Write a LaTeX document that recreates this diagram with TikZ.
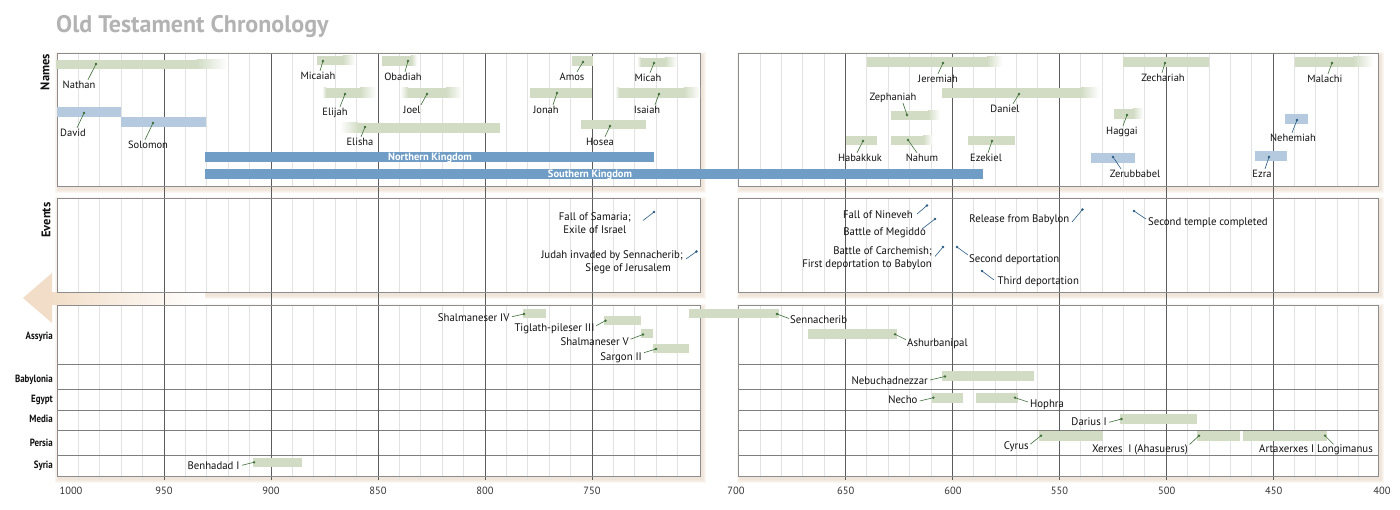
\documentclass[tikz,border=0pt]{standalone}
\usepackage{fontspec}
\setmainfont{PT Sans}
\newfontfamily\condf[FakeStretch=0.98]{PT Sans}
\newfontfamily\rowf[FakeStretch=0.85]{PT Sans}
\definecolor{gbar}{HTML}{D2DCC5}
\definecolor{lbbar}{HTML}{B5CADF}
\definecolor{dbbar}{HTML}{6F9DC5}
\definecolor{lgreen}{HTML}{3F6F3A}
\definecolor{lblue}{HTML}{2B5C82}
\definecolor{titlegray}{HTML}{B3B3B3}
\definecolor{peach}{HTML}{F2DEC8}
\definecolor{shadowc}{HTML}{E0CBB4}
\definecolor{minorc}{HTML}{E2E2E2}
\definecolor{majorc}{HTML}{5C5C5C}
\definecolor{borderc}{HTML}{8C8C8C}
\definecolor{txt}{HTML}{111111}
\newcommand\yrL[1]{57+(1000-#1)*2.14}
\newcommand\yrR[1]{738.5+(700-#1)*2.138}
% bar: colour, x1, x2, y1, y2, fade left, fade right, name
\newcommand\tbar[8]{%
  \fill[#1] ({#2+#6},#4) rectangle ({#3-#7},#5);
  \ifnum#6>0 \shade[left color=white,right color=#1] (#2,#4) rectangle ({#2+#6},#5);\fi
  \ifnum#7>0 \shade[left color=#1,right color=white] ({#3-#7},#4) rectangle (#3,#5);\fi
  \coordinate (#8) at ({(#2+#3)/2},{(#4+#5)/2});}
% name label: id, text, x, y, leader dx, dot x, dot y, colour
\newcommand\nameitem[8]{%
  \node[lbl] (#1) at (#3,#4) {#2};
  \coordinate (d#1) at (#6,#7);
  \draw[ldr,draw=#8] (#1.north) ++(#5,-1.5) -- (d#1);
  \fill[#8] (d#1) circle (1.3);}
\newcommand\shadowpanel[4]{%
  \foreach \s in {1,...,4}{\fill[shadowc,opacity=0.15] ({#1-\s+2},{#2-\s+3}) rectangle ({#3+\s+2},{#4+\s+3});}
  \fill[white] (#1,#2) rectangle (#3,#4);}
\begin{document}
\begin{tikzpicture}[x=1pt,y=-1pt,
  gmin/.style={draw=minorc,line width=0.7pt},
  gmaj/.style={draw=majorc,line width=0.8pt},
  pborder/.style={draw=borderc,line width=0.9pt},
  rowsep/.style={draw=borderc!90!black,line width=0.9pt},
  ldr/.style={line width=0.6pt},
  lbl/.style={inner sep=0pt,text height=7pt,text depth=0pt,text=txt,font=\fontsize{10.5}{12}\selectfont},
  blbl/.style={inner sep=0pt,text height=7pt,text depth=0pt,text=txt,font=\condf\fontsize{11}{13}\selectfont},
  evt/.style={inner sep=0pt,text=txt,font=\condf\fontsize{11}{13}\selectfont},
  rowl/.style={inner sep=0pt,anchor=east,text height=7pt,text depth=0pt,text=txt,font=\rowf\bfseries\fontsize{10.5}{12}\selectfont},
  axl/.style={inner sep=0pt,text height=7pt,text depth=0pt,text=txt!85,font=\fontsize{10.5}{12}\selectfont},
  kt/.style={inner sep=0pt,text height=7pt,text depth=0pt,text=white,font=\bfseries\fontsize{10.5}{12}\selectfont},
  sidel/.style={inner sep=0pt,rotate=90,text=txt,font=\bfseries\fontsize{12.5}{14}\selectfont}]
\useasboundingbox (0,0) rectangle (1400,510);
\fill[white] (0,0) rectangle (1400,510);
% title
\node[anchor=base west,inner sep=0pt,text=titlegray,font=\bfseries\fontsize{24}{28}\selectfont] (title) at (56,33) {Old Testament Chronology};
% panels with shadows
\shadowpanel{57}{53}{700}{186}
\shadowpanel{738.5}{53}{1378}{186}
\shadowpanel{57}{198}{700}{292}
\shadowpanel{738.5}{198}{1378}{292}
\shadowpanel{57}{305}{700}{476}
\shadowpanel{738.5}{305}{1378}{476}
% arrow
\fill[peach] (23,298) -- (52,273) -- (52,323) -- cycle;
\shade[left color=peach,right color=white] (52,292.5) rectangle (205,304.5);
% minor grid
\foreach \yr in {990,980,...,710}{
  \foreach \ya/\yb in {53/186,198/292,305/476}{
    \draw[gmin] ({\yrL{\yr}},\ya) -- ({\yrL{\yr}},\yb);}
  \draw[gmin] ({\yrL{\yr}},476) -- ({\yrL{\yr}},479.5);}
\foreach \yr in {690,680,...,410}{
  \foreach \ya/\yb in {53/186,198/292,305/476}{
    \draw[gmin] ({\yrR{\yr}},\ya) -- ({\yrR{\yr}},\yb);}
  \draw[gmin] ({\yrR{\yr}},476) -- ({\yrR{\yr}},479.5);}
% row separators
\foreach \ry in {364.3,389.3,410,430.3,455.7}{
  \draw[rowsep] (57,\ry) -- (700,\ry);
  \draw[rowsep] (738.5,\ry) -- (1378,\ry);}
% major lines
\foreach \yr in {950,900,...,750}{\draw[gmaj] ({\yrL{\yr}},53) -- ({\yrL{\yr}},480);}
\foreach \yr in {650,600,...,450}{\draw[gmaj] ({\yrR{\yr}},53) -- ({\yrR{\yr}},480);}
% borders
\foreach \xa/\xb in {57/700,738.5/1378}{
  \draw[pborder] (\xa,53) rectangle (\xb,186);
  \draw[pborder] (\xa,198) rectangle (\xb,292);
  \draw[pborder] (\xa,305) rectangle (\xb,476);}
% side labels
\node[sidel] (namesl) at (45,72) {Names};
\node[sidel] (eventsl) at (46,220) {Events};
% ---------- bars: names ----------
\tbar{gbar}{56}{227}{60}{69}{0}{30}{bNathan}
\tbar{lbbar}{57}{121}{107}{117}{0}{0}{bDavid}
\tbar{lbbar}{121}{206}{117}{127}{0}{0}{bSolomon}
\tbar{gbar}{317}{355}{56}{65}{0}{12}{bMicaiah}
\tbar{gbar}{322}{376}{88}{98}{4}{16}{bElijah}
\tbar{gbar}{340}{500}{123}{133}{18}{0}{bElisha}
\tbar{gbar}{382}{417}{56}{66}{0}{6}{bObadiah}
\tbar{gbar}{400}{462}{88}{98}{8}{16}{bJoel}
\tbar{gbar}{572}{593}{56}{66}{0}{0}{bAmos}
\tbar{gbar}{637}{677}{58}{67}{4}{12}{bMicah}
\tbar{gbar}{530}{592}{88}{98}{0}{0}{bJonah}
\tbar{gbar}{615}{700}{88}{98}{4}{16}{bIsaiah}
\tbar{gbar}{581}{646}{120}{129}{0}{0}{bHosea}
\tbar{dbbar}{205}{654}{152}{162}{0}{0}{bNK}
\tbar{dbbar}{205}{983}{169}{179}{0}{0}{bSK}
\tbar{gbar}{867}{1002}{57}{67}{0}{15}{bJeremiah}
\tbar{gbar}{942}{1099}{88}{98}{0}{18}{bDaniel}
\tbar{gbar}{891}{940}{111}{120}{0}{12}{bZephaniah}
\tbar{gbar}{846}{877}{136}{145}{0}{0}{bHabakkuk}
\tbar{gbar}{891}{933}{136}{145}{0}{10}{bNahum}
\tbar{gbar}{968}{1015}{136}{145}{0}{0}{bEzekiel}
\tbar{gbar}{1123}{1209}{57}{67}{0}{0}{bZechariah}
\tbar{gbar}{1114}{1143}{109}{119}{0}{10}{bHaggai}
\tbar{lbbar}{1091}{1135}{153}{163}{0}{0}{bZerubbabel}
\tbar{lbbar}{1285}{1308}{114}{124}{0}{0}{bNehemiah}
\tbar{lbbar}{1255}{1287}{151}{161}{0}{0}{bEzra}
\tbar{gbar}{1295}{1373}{57}{67}{0}{20}{bMalachi}
% ---------- bars: nations ----------
\tbar{gbar}{522.5}{546.4}{309}{318.3}{0}{0}{bShalIV}
\tbar{gbar}{603.8}{640.5}{315.7}{325}{0}{0}{bTig}
\tbar{gbar}{640.5}{653}{329}{338.3}{0}{0}{bShalV}
\tbar{gbar}{653}{688.7}{344.3}{353.3}{0}{0}{bSargon}
\tbar{gbar}{688.7}{778.5}{309}{318.3}{0}{0}{bSenn}
\tbar{gbar}{808}{897}{329.3}{339.3}{0}{0}{bAshur}
\tbar{gbar}{942}{1034.4}{371}{381}{0}{0}{bNeb}
\tbar{gbar}{931.6}{962.8}{392.7}{402.7}{0}{0}{bNecho}
\tbar{gbar}{976}{1017.5}{392.7}{402.7}{0}{0}{bHophra}
\tbar{gbar}{1120}{1197}{414}{424}{0}{0}{bDarius}
\tbar{gbar}{1039}{1102.5}{431}{441}{0}{0}{bCyrus}
\tbar{gbar}{1197}{1240.4}{431}{441}{0}{0}{bXerxes}
\tbar{gbar}{1242.5}{1327}{431}{441}{0}{0}{bArta}
\tbar{gbar}{252.5}{302}{458}{466.7}{0}{0}{bBen}
% kingdom texts
\node[kt] (nk) at (430,157) {Northern Kingdom};
\node[kt] (sk) at (590,174) {Southern Kingdom};
% ---------- name labels ----------
\nameitem{nathan}{Nathan}{79}{85}{9}{96}{64}{lgreen}
\nameitem{david}{David}{73}{133}{4}{84}{113}{lgreen}
\nameitem{solomon}{Solomon}{148}{145}{-3}{153}{123}{lgreen}
\nameitem{micaiah}{Micaiah}{318}{76}{2}{323}{61}{lgreen}
\nameitem{elijah}{Elijah}{335}{112}{5}{345}{94}{lgreen}
\nameitem{elisha}{Elisha}{360}{142}{1}{365}{127}{lgreen}
\nameitem{obadiah}{Obadiah}{403}{77}{2}{408}{61}{lgreen}
\nameitem{joel}{Joel}{412}{110}{9}{427}{94}{lgreen}
\nameitem{amos}{Amos}{572}{77}{5}{583}{62}{lgreen}
\nameitem{micah}{Micah}{648}{78}{2}{654}{63}{lgreen}
\nameitem{jonah}{Jonah}{546}{110}{7}{557}{93}{lgreen}
\nameitem{isaiah}{Isaiah}{647}{110}{8}{659}{94}{lgreen}
\nameitem{hosea}{Hosea}{600}{142}{5}{610}{126}{lgreen}
\nameitem{jeremiah}{Jeremiah}{938}{79}{0}{943}{63}{lgreen}
\nameitem{daniel}{Daniel}{1005}{109}{8}{1019}{94}{lgreen}
\nameitem{habakkuk}{Habakkuk}{860}{158}{-3}{863}{141}{lgreen}
\nameitem{nahum}{Nahum}{922}{158}{-5}{908}{140}{lgreen}
\nameitem{ezekiel}{Ezekiel}{986}{158}{2}{992}{141}{lgreen}
\nameitem{zechariah}{Zechariah}{1163}{78}{-1}{1165}{63}{lgreen}
\nameitem{haggai}{Haggai}{1122}{131}{1}{1127}{115}{lgreen}
\nameitem{zerubbabel}{Zerubbabel}{1135}{174}{-14}{1113}{157}{lblue}
\nameitem{nehemiah}{Nehemiah}{1293}{138}{-1}{1297}{120}{lblue}
\nameitem{ezra}{Ezra}{1262}{174}{3}{1269}{157}{lblue}
\nameitem{malachi}{Malachi}{1325}{79}{3}{1332}{63}{lgreen}
\node[lbl] (zephaniah) at (893,97) {Zephaniah};
\coordinate (dzephaniah) at (907,115);
\draw[ldr,draw=lgreen] (zephaniah.south) ++(10,2.5) -- (dzephaniah);
\fill[lgreen] (dzephaniah) circle (1.3);
% ---------- events ----------
\node[evt,align=center,anchor=north east] (samaria) at (631,212) {Fall of Samaria;\\Exile of Israel};
\coordinate (dsamaria) at (654,212);
\draw[ldr,draw=lblue] (samaria.north east) ++(12,8.5) -- (dsamaria);
\node[evt,align=right,anchor=north east] (judah) at (683,250.5) {Judah invaded by Sennacherib;\\Siege of Jerusalem\kern12pt};
\coordinate (djudah) at (696.5,251.5);
\draw[ldr,draw=lblue] (judah.north east) ++(3,8.5) -- (djudah);
\node[evt,text height=7pt,text depth=0pt,anchor=east] (nineveh) at (913,214.8) {Fall of Nineveh};
\coordinate (dnineveh) at (927,205.5);
\draw[ldr,draw=lblue] (nineveh.east) ++(4,-0.8) -- (dnineveh);
\node[evt,text height=7pt,text depth=0pt,anchor=east] (megiddo) at (926,232) {Battle of Megiddo};
\coordinate (dmegiddo) at (935,219);
\draw[ldr,draw=lblue] (megiddo.east) ++(-4,-3) -- (dmegiddo);
\node[evt,align=right,anchor=north east] (carch) at (932,246) {Battle of Carchemish;\\First deportation to Babylon};
\coordinate (dcarch) at (943,247);
\draw[ldr,draw=lblue] (carch.north east) ++(3,10.5) -- (dcarch);
\node[evt,text height=7pt,text depth=0pt,anchor=west] (second) at (969,259) {Second deportation};
\coordinate (dsecond) at (957,247);
\draw[ldr,draw=lblue] (second.west) ++(-1,-4) -- (dsecond);
\node[evt,text height=7pt,text depth=0pt,anchor=west] (third) at (997.5,281) {Third deportation};
\coordinate (dthird) at (982,271);
\draw[ldr,draw=lblue] (third.west) ++(-3.5,-1) -- (dthird);
\node[evt,text height=7pt,text depth=0pt,anchor=east] (release) at (1069.5,219) {Release from Babylon};
\coordinate (drelease) at (1082.5,209.5);
\draw[ldr,draw=lblue] (release.east) ++(2.5,3) -- (drelease);
\node[evt,text height=7pt,text depth=0pt,anchor=west] (temple) at (1148,222) {Second temple completed};
\coordinate (dtemple) at (1134,211);
\draw[ldr,draw=lblue] (temple.west) ++(-2,-3) -- (dtemple);
\foreach \d in {dsamaria,djudah,dnineveh,dmegiddo,dcarch,dsecond,dthird,drelease,dtemple}{\fill[lblue] (\d) circle (1.3);}
% ---------- nation labels ----------
\node[blbl,anchor=east] (shaliv) at (509.6,317.7) {Shalmaneser IV};
\coordinate (dshaliv) at (524,314);
\draw[ldr,draw=lgreen] (shaliv.east) ++(2.4,-1) -- (dshaliv);
\node[blbl,anchor=east] (tig) at (594.6,327.7) {Tiglath-pileser III};
\coordinate (dtig) at (605.5,320.7);
\draw[ldr,draw=lgreen] (tig.east) ++(1.5,-2) -- (dtig);
\node[blbl,anchor=east] (shalv) at (629,341.7) {Shalmaneser V};
\coordinate (dshalv) at (643,334.5);
\draw[ldr,draw=lgreen] (shalv.east) ++(1.5,-2.5) -- (dshalv);
\node[blbl,anchor=east] (sargon) at (642,356.7) {Sargon II};
\coordinate (dsargon) at (656,349);
\draw[ldr,draw=lgreen] (sargon.east) ++(2,-4) -- (dsargon);
\node[blbl,anchor=west] (senn) at (790,320) {Sennacherib};
\coordinate (dsenn) at (777,314);
\draw[ldr,draw=lgreen] (senn.west) ++(-1,-1.5) -- (dsenn);
\node[blbl,anchor=west] (ashur) at (907,342.7) {Ashurbanipal};
\coordinate (dashur) at (895,334.3);
\draw[ldr,draw=lgreen] (ashur.west) ++(-1,-3) -- (dashur);
\node[blbl,anchor=east] (neb) at (928,381) {Nebuchadnezzar};
\coordinate (dneb) at (945,376.5);
\draw[ldr,draw=lgreen] (neb.east) ++(2,-1) -- (dneb);
\node[blbl,anchor=east] (necho) at (917.7,400) {Necho};
\coordinate (dnecho) at (933.4,397.7);
\draw[ldr,draw=lgreen] (necho.east) ++(2,1) -- (dnecho);
\node[blbl,anchor=west] (hophra) at (1030,404) {Hophra};
\coordinate (dhophra) at (1015,397.7);
\draw[ldr,draw=lgreen] (hophra.west) ++(-2,-2) -- (dhophra);
\node[blbl,anchor=east] (darius) at (1107,422.3) {Darius I};
\coordinate (ddarius) at (1121.5,419);
\draw[ldr,draw=lgreen] (darius.east) ++(2,0) -- (ddarius);
\node[blbl,anchor=east] (cyrus) at (1028.8,445.7) {Cyrus};
\coordinate (dcyrus) at (1041,435.7);
\draw[ldr,draw=lgreen] (cyrus.east) ++(1.5,-1.5) -- (dcyrus);
\node[blbl,anchor=east] (xerxes) at (1188,449) {Xerxes\ \ I (Ahasuerus)};
\coordinate (dxerxes) at (1199,435.7);
\draw[ldr,draw=lgreen] (xerxes.east) ++(1.5,-4.5) -- (dxerxes);
\node[blbl] (arta) at (1316,449) {Artaxerxes I Longimanus};
\coordinate (darta) at (1325,435.7);
\draw[ldr,draw=lgreen] (arta.north) ++(17.5,-1) -- (darta);
\node[blbl,anchor=east] (ben) at (239.7,466) {Benhadad I};
\coordinate (dben) at (254,462.3);
\draw[ldr,draw=lgreen] (ben.east) ++(2.3,-0.7) -- (dben);
\foreach \d in {dshaliv,dtig,dshalv,dsargon,dsenn,dashur,dneb,dnecho,dhophra,ddarius,dcyrus,dxerxes,darta,dben}{\fill[lgreen] (\d) circle (1.3);}
% row labels
\node[rowl] (assyria) at (53,336) {Assyria};
\node[rowl] (babylonia) at (53,379) {Babylonia};
\node[rowl] (egypt) at (53,399) {Egypt};
\node[rowl] (media) at (53,419) {Media};
\node[rowl] (persia) at (53,443) {Persia};
\node[rowl] (syria) at (53,465) {Syria};
% axis labels
\node[axl] (a1000) at (71,491) {1000};
\node[axl] (a950) at (164,491) {950};
\node[axl] (a900) at (271,491) {900};
\node[axl] (a850) at (378,491) {850};
\node[axl] (a800) at (485,491) {800};
\node[axl] (a750) at (592,491) {750};
\node[axl] (a700) at (736,491) {700};
\node[axl] (a650) at (845.8,491) {650};
\node[axl] (a600) at (952.9,491) {600};
\node[axl] (a550) at (1059.5,491) {550};
\node[axl] (a500) at (1166.7,491) {500};
\node[axl] (a450) at (1273.8,491) {450};
\node[axl] (a400) at (1382,491) {400};
\end{tikzpicture}
\end{document}
